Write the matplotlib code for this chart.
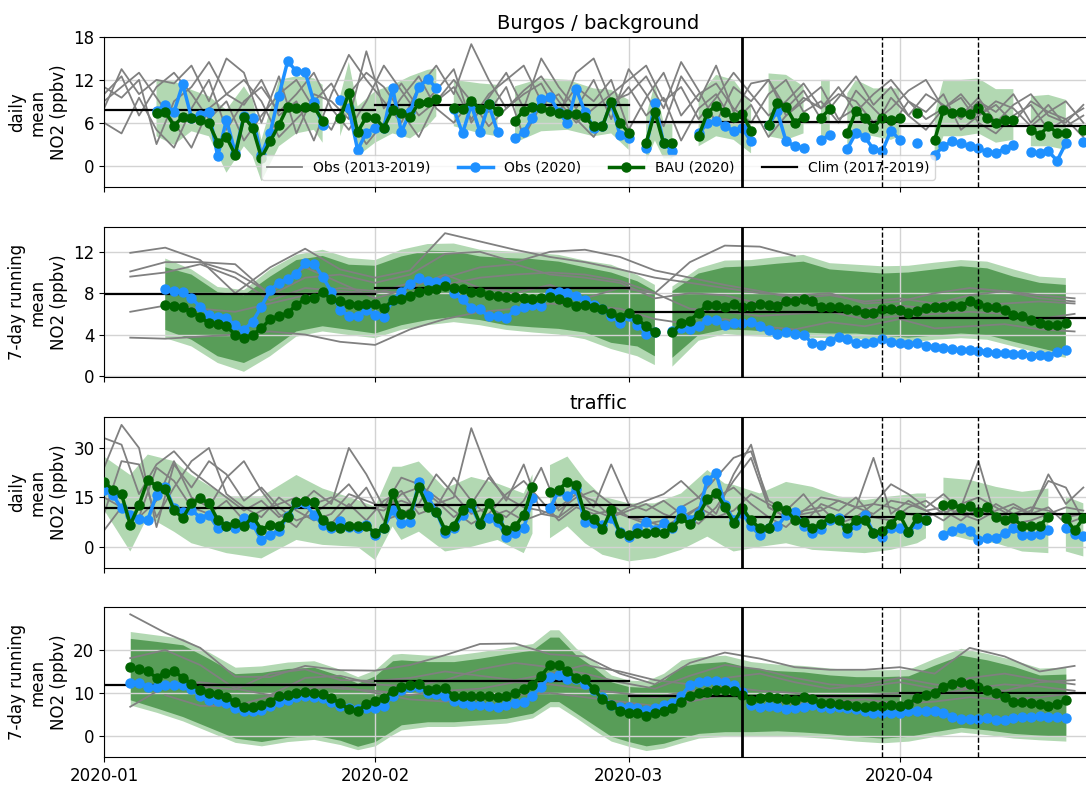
import matplotlib
matplotlib.use('Agg')
import matplotlib.pyplot as plt
import matplotlib.dates as mdates
import numpy as np

nan = np.nan
t0 = np.datetime64('2020-01-01')

# ---------------- background, daily ----------------
bg_day_obs_days = np.arange(0, 113, 2)
bg_day_hist = [
    [8, 13.5, 10, 12, 11.5, 14, 9, 15, 13, 6, 12.5, 4.5, 10, 9, 6.5, 16, 8, 11.5, 8, 10.5,
     13.5, 6, 9.5, 13, 8, 15, 11, 8, 12, 6.5, 13.5, 10, 5.5, 12.5, 9, 14, 7.5, 11.5, 12, 8,
     10.5, 6.5, 9.5, 12.5, 8.5, 11, 7, 10, 8.5, 6.5, 9, 7.5, 10, 6, 8.5, 5.5, 7],
    [11, 9.5, 12, 3, 9, 11, 14.5, 10, 8.5, 12, 7, 9, 3.5, 10, 15.5, 12, 9, 6, 11, 14,
     10, 17, 12, 8, 10, 11.5, 7, 13, 15, 9, 10, 12.5, 8, 14.5, 10.5, 6, 11, 9, 12, 7,
     9.5, 8, 11, 7.5, 10, 12, 9, 6.5, 8, 10, 7, 8.5, 6, 9, 7.5, 6.5, 8],
    [6, 4.5, 9.5, 5, 2.5, 8, 12, 5, 9, 11, 7.5, 10, 13, 8, 5, 9, 14, 10.5, 7, 9,
     11, 6.5, 10, 12, 14, 9, 7.5, 11, 9, 12, 5, 9.5, 13, 7, 10, 11.5, 8, 6, 10, 12,
     7.5, 9, 6, 10.5, 8, 5.5, 9, 7.5, 10, 5, 7, 9, 8, 5.5, 7.5, 9, 6],
    [9, 11, 13, 9.5, 6, 2.5, 8, 10, 12, 9, 4, 6.5, 9, 11.5, 7, 3, 6, 9.5, 12.5, 8,
     6, 9, 7.5, 11, 4, 8.5, 10, 6.5, 4, 8, 11, 7, 9.5, 3.5, 8, 10, 6, 8.5, 4, 7,
     9, 11, 6.5, 8, 5, 9.5, 7, 5, 8, 9.5, 6, 4.5, 7, 8.5, 5, 6.5, 4],
    [10, 12.5, 7, 11, 13, 10, 6.5, 9, 3.5, 7, 10, 12, 8, 5, 10, 13, 11, 7.5, 4, 9,
     12, 9, 5.5, 8, 10.5, 12.5, 9, 6, 8, 10, 12, 14, 9, 11, 6.5, 9.5, 13, 10, 7, 9,
     11.5, 8, 10, 9, 6, 8, 10.5, 12, 8, 7, 9.5, 6, 8.5, 10, 7, 6, 8.5],
]
bg_day_days = np.arange(6, 113)
bg_day_obs20 = ([7.7, 8.5, 7.5, 11.4, 6.7, 7.1, 7.5, 1.3, 6.4, 1.8, 6.9, 6.7, 1.5, 4.6, 9.8, 14.6, 13.2, 13.1, 8.9, 5.7]
                + [nan] + [9.2, 8.0, 2.2, 4.6, 5.3, 5.3, 10.9, 4.7, 7.5, 11.0, 12.1, 10.9]
                + [nan] + [7.9, 4.5, 8.5, 4.7, 8.6, 4.7]
                + [nan] + [3.8, 4.7, 6.7, 9.3, 9.6, 7.5, 5.9, 10.7, 7.5, 5.3, 5.5, 8.8, 4.3, 3.8]
                + [nan] + [2.5, 8.8, 3.1, 2.1] + [nan, nan] + [4.5, 5.9, 6.3, 5.6, 4.8, 5.2, 3.4]
                + [nan] + [5.7, 7.6, 3.4, 2.7, 2.5] + [nan] + [3.6, 4.3] + [nan]
                + [2.3, 4.6, 4.0, 2.3, 2.0, 4.9, 3.6] + [nan] + [3.2] + [nan]
                + [1.5, 2.7, 3.4, 3.1, 2.7, 2.4, 1.9, 1.8, 2.3, 2.9] + [nan]
                + [1.9, 1.7, 2.0, 0.7, 3.1] + [nan] + [3.3])
bg_day_bau = ([7.4, 7.5, 5.6, 6.8, 6.7, 6.4, 5.9, 3.2, 4.0, 1.5, 6.8, 5.3, 1.1, 3.4, 5.7, 8.2, 8.1, 8.2, 8.2, 6.3]
              + [nan] + [6.6, 10.2, 4.7, 6.8, 6.7, 5.3, 7.8, 7.4, 6.8, 8.8, 8.9, 9.3]
              + [nan] + [8.0, 7.9, 9.1, 7.9, 8.6, 7.7]
              + [nan] + [6.3, 7.7, 8.2, 8.1, 7.6, 7.3, 7.2, 7.2, 6.8, 5.5, 5.5, 8.9, 6.0, 4.6]
              + [nan] + [3.2, 7.5, 3.1, 3.1] + [nan, nan] + [4.1, 7.4, 8.4, 7.5, 6.8, 7.2, 4.9]
              + [nan] + [5.7, 8.8, 8.2, 6.0, 6.8] + [nan] + [6.7, 7.9] + [nan]
              + [4.5, 7.7, 6.7, 5.3, 6.7, 6.4, 6.7] + [nan] + [7.3] + [nan]
              + [3.6, 7.8, 7.4, 7.5, 7.2, 8.1, 6.7, 6.0, 6.4, 6.4] + [nan]
              + [5.0, 4.3, 5.5, 4.6, 4.6] + [nan] + [5.0])
bg_day_band_days = [6, 8, 10, 12, 14, 16, 17, 18, 20, 22, 24, 25, 26, 27, 28, 29, 31, 33, 35, 37,
                    38, 39, 40, 43, 45, 46, 47, 50, 53, 56, 58, 60, 61, 62, 63, 64, 65, 66, 68, 70,
                    72, 74, 75, 76, 78, 80, 81, 82, 83, 84, 85, 86, 88, 90, 91, 92, 93, 94, 95, 96,
                    98, 100, 102, 104, 105, 106, 108, 110, 111, 112]
bg_day_band_hi = [12.0, 11.8, 10.6, 9.7, 7.8, 11.1, 9.2, 3.6, 12.0, 12.5, 12.2, 11.3, nan, 9.7, 14.5, 8.3, 10.4, 11.3, 12.5, 13.4,
                  13.6, nan, 12.0, 11.5, 11.3, nan, 11.1, 12.2, 12.0, 10.8, 10.6, 9.2, nan, 7.0, 11.5, 6.0, 6.0, nan, 9.7, 12.7,
                  12.0, 8.7, nan, 12.9, 12.7, 11.1, nan, 12.0, 12.0, nan, 10.1, 12.0, 10.8, 10.8, 10.8, nan, 11.5, nan, 7.3, 12.0,
                  12.0, 12.2, 10.7, 10.7, nan, 9.7, 9.9, 9.2, nan, 9.7]
bg_day_band_lo = [4.1, 2.9, 4.8, 4.1, -1.0, 2.7, 1.3, -2.2, 2.7, 4.5, 5.0, 3.2, nan, 4.1, 7.8, 1.3, 3.2, 4.5, 3.8, 5.5,
                  6.9, nan, 5.5, 4.5, 4.1, nan, 3.2, 4.8, 5.0, 4.1, 4.5, 2.2, nan, 0.5, 3.5, 1.0, 1.0, nan, 2.7, 4.1,
                  3.6, 1.7, nan, 4.1, 3.6, 4.5, nan, 3.2, 4.1, nan, 2.7, 4.5, 4.1, 3.6, 4.1, nan, 4.5, nan, 0.8, 4.1,
                  4.1, 4.5, 3.2, 3.6, nan, 2.7, 2.7, 2.2, nan, 3.6]
bg_day_clim = [7.8, 8.5, 6.1, 5.6]

# ---------------- background, 7-day ----------------
bg_7d_obs_days = np.arange(3, 112, 4)
bg_7d_hist = [
    [11.9, 12.4, 11.2, 8.0, 10.5, 12.3, 10.3, 9.5, 10.2, 13.8, 13.0, 12.2, 11.5, 11.0, 10.3, 9.5, 9.0, 8.5, 8.0, 7.8,
     8.0, 7.0, 7.2, 8.0, 8.5, 8.2, 7.8, 7.5],
    [10.1, 11.0, 11.0, 10.8, 7.8, 9.5, 9.8, 9.0, 9.8, 11.8, 12.0, 11.0, 12.0, 12.2, 11.5, 10.2, 9.5, 8.8, 8.2, 7.5,
     7.8, 7.2, 7.5, 7.0, 7.8, 8.2, 7.5, 7.2],
    [9.6, 10.0, 10.8, 9.5, 7.3, 8.5, 8.2, 8.0, 9.0, 9.5, 10.5, 10.8, 9.8, 9.5, 9.0, 7.5, 8.0, 7.8, 7.0, 7.2,
     6.8, 6.5, 6.8, 6.5, 6.8, 7.0, 7.2, 7.0],
    [6.2, 6.8, 6.5, 6.2, 7.0, 7.8, 8.5, 8.2, 8.0, 8.8, 9.5, 9.8, 10.0, 9.8, 9.2, 8.0, 6.5, 6.2, 5.8, 6.0,
     6.2, 5.5, 5.8, 6.0, 6.2, 6.0, 5.5, 6.0],
    [3.7, 3.6, 3.8, 4.0, 4.3, 4.0, 3.3, 3.0, 4.5, 5.5, 6.2, 6.5, 7.0, 6.8, 6.5, 5.5, 5.0, 5.5, 4.8, 4.5,
     5.2, 4.8, 5.5, 4.6, 4.8, 5.0, 4.5, 4.3],
    [nan, nan, 11.0, 10.0, 8.0, 10.5, 9.0, 7.5, 8.5, 9.8, 8.5, 8.0, 8.8, 7.5, 8.5, 8.0, 11.0, 12.6, 12.5, 11.6,
     nan, nan, nan, nan, nan, nan, nan, nan],
]
bg_7d_days = np.arange(7, 111)
bg_7d_obs20 = ([8.4, 8.2, 8.15, 7.5, 6.7, 5.9, 5.7, 5.6, 4.9, 4.45, 5.25, 6.7, 8.3, 9.0, 9.4, 9.9, 10.9, 10.85, 9.6, 8.15,
                6.4, 5.8, 5.8, 6.4, 5.9, 5.7, 7.35]
               + [8.15, 8.9, 9.45, 9.15, 9.05, 9.2, 8.0, 7.4, 6.55, 6.45, 5.75, 5.75, 5.6, 6.4, 6.65, 6.9, 6.8, 8.0, 8.15, 8.05,
                  7.75, 7.35, 6.9, 6.45, 5.8, 5.1, 5.75, 4.95, 4.1, 4.2]
               + [nan] + [4.3, 4.6, 4.5, 4.85, 5.4, 5.4]
               + [4.95, 5.15, 5.1, 5.25, 4.85, 4.45, 4.1, 4.2, 4.1, 3.95, 3.2, 3.0, 3.4, 3.75, 3.55, 3.2, 3.2, 3.3, 3.55, 3.3,
                  3.15, 3.1, 3.2, 2.9, 2.8, 2.7, 2.6, 2.5, 2.5, 2.45, 2.35, 2.25, 2.2, 2.15, 2.15, 1.95, 2.05, 1.9, 2.35, 2.5])
bg_7d_bau = ([6.9, 6.8, 6.65, 6.2, 5.7, 5.1, 5.0, 4.8, 4.0, 3.65, 4.0, 4.6, 5.5, 5.8, 6.05, 6.9, 7.4, 7.5, 8.1, 7.4,
              7.2, 7.0, 6.9, 7.0, 7.0, 6.55, 7.3]
             + [7.4, 7.75, 8.15, 8.3, 8.4, 8.7, 8.5, 8.4, 8.15, 8.1, 7.85, 7.75, 7.6, 7.6, 7.5, 7.4, 7.5, 7.6, 7.4, 7.1,
                6.8, 6.9, 6.7, 6.45, 6.05, 5.7, 6.05, 5.5, 4.8, 4.2]
             + [nan] + [4.2, 5.1, 5.35, 6.1, 6.9, 6.9]
             + [6.7, 7.0, 6.7, 6.8, 6.95, 6.9, 6.8, 7.2, 7.2, 7.4, 7.2, 6.65, 6.7, 6.65, 6.45, 6.4, 6.05, 6.1, 6.45, 6.45,
                6.4, 6.05, 6.3, 6.55, 6.7, 6.7, 6.8, 6.8, 7.2, 6.95, 6.7, 6.65, 6.4, 5.9, 5.75, 5.4, 5.15, 4.95, 4.95, 5.15])
bg_7d_band_days = [7, 10, 13, 16, 19, 22, 25, 28, 31, 34, 37, 40, 43, 46, 49, 52, 55, 58, 61, 63,
                   64, 65, 68, 71, 74, 77, 80, 83, 86, 89, 92, 95, 98, 101, 104, 107, 110]
bg_7d_outer_hi = [11.35, 10.3, 8.6, 8.3, 10.3, 11.7, 12.2, 11.4, 11.2, 12.2, 12.75, 12.8, 12.2, 12.05, 11.9, 11.7, 11.15, 10.75, 9.75, 8.8,
                  nan, 8.65, 10.4, 11.15, 11.2, 11.5, 11.7, 10.9, 10.75, 10.6, 10.65, 10.95, 11.2, 11.05, 10.3, 9.6, 9.45]
bg_7d_inner_hi = [10.5, 9.8, 8.1, 7.8, 9.6, 11.2, 11.6, 10.75, 10.65, 11.55, 12.1, 12.05, 11.55, 11.4, 11.3, 11.05, 10.5, 10.0, 9.15, 8.2,
                  nan, 8.2, 9.9, 10.5, 10.6, 10.85, 11.05, 10.3, 10.1, 9.9, 10.0, 10.3, 10.6, 10.4, 9.6, 9.0, 8.8]
bg_7d_inner_lo = [4.45, 3.5, 1.9, 1.25, 2.5, 4.3, 4.8, 4.45, 4.1, 4.9, 5.4, 5.7, 5.4, 4.9, 4.7, 4.55, 4.2, 3.2, 2.85, 1.9,
                  nan, 1.75, 3.95, 4.5, 4.4, 4.2, 4.2, 4.1, 4.1, 3.9, 3.7, 3.9, 4.1, 3.95, 3.3, 2.7, 2.1]
bg_7d_outer_lo = [3.65, 2.85, 1.25, 0.4, 1.9, 3.8, 4.3, 3.95, 3.65, 4.45, 4.9, 5.2, 4.9, 4.45, 4.2, 4.0, 3.55, 2.6, 1.9, 1.05,
                  nan, 0.9, 3.4, 4.05, 3.85, 3.75, 3.7, 3.65, 3.6, 3.4, 3.2, 3.5, 3.65, 3.5, 2.85, 2.2, 1.75]
bg_7d_clim = [7.9, 8.5, 6.2, 5.6]

# ---------------- traffic, daily ----------------
tr_day_obs_days = np.arange(0, 113, 2)
tr_day_hist = [
    [33, 31, 16, 25, 29, 23, 19, 15, 11, 14, 9, 12, 17, 13, 30, 22, 12, 14, 12, 13,
     15, 36, 22, 14, 25, 10, 9, 13, 11, 9, 12, 14, 16, 20, 15, 10, 22, 31, 12, 9,
     11, 15, 14, 12, 27, 10, 14, 11, 8, 12, 26, 8, 12, 10, 22, 13, 18],
    [24, 37, 30, 6, 25, 18, 26, 22, 14, 18, 12, 8, 10, 14, 19, 12, 11, 16, 18, 14,
     9, 13, 21, 15, 12, 11, 9, 18, 12, 25, 13, 11, 14, 10, 7, 12, 20, 27, 12, 9,
     10, 11, 14, 12, 13, 19, 16, 12, 16, 11, 9, 13, 10, 12, 11, 9, 10],
    [10, 26, 25, 9, 18, 26, 30, 16, 12, 9, 15, 11, 8, 10, 16, 14, 12, 21, 19, 15,
     11, 7, 10, 16, 20, 14, 8, 12, 10, 11, 9, 7, 8, 12, 15, 21, 27, 29, 14, 11,
     16, 9, 8, 12, 10, 14, 13, 11, 12, 10, 8, 11, 13, 10, 12, 7, 9],
    [5, 12, 9, 14, 26, 15, 12, 21, 26, 17, 10, 6, 13, 15, 12, 18, 8, 10, 13, 22,
     16, 10, 12, 9, 14, 24, 11, 15, 17, 13, 9, 8, 6, 9, 12, 15, 18, 13, 9, 6,
     11, 12, 7, 9, 13, 12, 10, 9, 11, 8, 12, 9, 7, 8, 10, 12, 11],
    [15, 12, 9, 24, 20, 12, 10, 14, 8, 11, 13, 15, 10, 7, 13, 8, 14, 17, 10, 12,
     21, 14, 9, 11, 8, 10, 12, 16, 14, 9, 11, 13, 10, 8, 12, 9, 11, 16, 13, 10,
     7, 13, 11, 15, 9, 8, 12, 14, 10, 13, 15, 12, 9, 11, 20, 18, 8],
]
tr_day_days = np.arange(0, 113)
tr_day_obs20 = ([17.3, 15.7, 11.7, 9.7, 8.4, 8.2, 15.7, 18.1, 11.7, 10.7, 11.2, 8.9, 9.7, 5.7, 6.2, 5.7, 8.9, 6.9, 2.1, 3.6,
                 4.9, 9.5, 13.2, 13.2, 9.7, 6.7, 5.7, 7.7, 5.9, 5.7, 6.7, 3.6, 5.7, 11.2]
                + [7.1, 7.6, 19.8, 15.3, 10.7, 4.3, 5.7, 9.7, 12.2, 7.0, 8.7, 7.6, 3.1, 4.3, 5.7, 14.7]
                + [nan] + [11.7, 17.0, 15.3, 17.5, 7.6, 7.1, 6.6, 8.7, 4.6, 3.0, 5.7, 7.6, 5.2, 7.1, 5.7, 11.2, 8.2, 10.2,
                           20.3, 22.3, 12.7]
                + [8.2, 10.2, 6.2, 3.6, 5.7, 6.2, 9.7, 10.7, 6.4, 4.1, 5.4, 8.2, 8.7, 4.1, 6.7, 9.7, 4.3, 3.1, 5.7, 5.7,
                   4.6, 6.9, 8.0]
                + [nan] + [3.6, 4.9, 5.7, 4.9, 2.2, 2.8, 2.8, 4.1, 5.7, 3.6, 3.6, 3.9, 5.2]
                + [nan] + [5.7, 3.9, 3.3])
tr_day_bau = ([19.8, 17.3, 16.0, 6.7, 12.7, 20.3, 18.5, 17.5, 11.2, 8.7, 13.2, 14.7, 13.2, 8.2, 6.4, 7.2, 6.2, 9.2, 5.2, 6.7,
               6.4, 9.2, 13.7, 14.0, 13.5, 8.2, 6.2, 5.7, 6.4, 6.4, 6.2, 4.3, 5.7, 16.3]
              + [9.9, 9.9, 18.1, 12.2, 10.7, 5.2, 6.4, 11.2, 13.4, 7.0, 13.4, 8.7, 5.2, 6.2, 9.7, 18.1]
              + [nan] + [16.5, 17.3, 19.8, 18.8, 9.7, 8.4, 5.4, 11.2, 4.1, 3.6, 4.3, 4.3, 4.6, 4.3, 5.9, 8.7, 6.9, 9.7,
                         14.4, 16.3, 12.2]
              + [7.3, 11.7, 8.0, 5.7, 5.7, 12.4, 11.2, 8.2, 7.6, 5.7, 6.9, 8.9, 8.0, 5.7, 8.0, 8.2, 4.3, 4.9, 6.9, 9.7,
                 4.6, 8.9, 8.0]
              + [nan] + [12.7, 13.0, 11.7, 12.4, 10.7, 12.0, 9.2, 8.0, 8.7, 6.4, 6.4, 6.4, 9.2]
              + [nan] + [8.7, 5.0, 8.7])
tr_day_band_days = [0, 3, 5, 8, 10, 14, 18, 22, 25, 29, 31, 33, 34, 36, 39, 42, 45, 48, 49, 50,
                    51, 53, 55, 57, 60, 63, 66, 69, 71, 72, 75, 78, 81, 84, 87, 90, 93, 94, 95, 96,
                    99, 102, 105, 108, 109, 110, 112]
tr_day_band_hi = [27.4, 21.8, 28.0, 26.0, 21.8, 15.3, 15.3, 21.8, 17.7, 14.2, 12.2, 24.3, 24.3, 25.9, 17.7, 21.2, 19.2, 16.2, 22.0, nan,
                  24.8, 27.4, 20.3, 15.3, 13.2, 13.2, 16.2, 23.3, 19.2, 18.8, 16.2, 19.7, 18.2, 15.3, 14.2, 15.3, 16.2, 16.2, nan, 21.0,
                  20.3, 18.2, 16.7, 17.7, nan, 15.3, 13.2]
tr_day_band_lo = [11.2, -1.4, 9.2, 4.6, 1.1, -1.9, -3.5, 2.1, 0.6, 0.0, -4.0, 6.2, 2.1, 4.6, -1.4, 0.0, 2.1, -1.9, 4.0, nan,
                  2.6, 6.2, 1.1, -2.4, -4.4, -3.4, -0.9, 3.1, 0.0, -1.4, 0.0, 1.1, -0.9, -1.4, -1.9, -0.9, 1.1, 2.6, nan, 4.1,
                  2.1, 1.1, -1.4, -1.9, nan, -1.4, -2.9]
tr_day_clim = [11.9, 12.7, 9.2, 9.9]

# ---------------- traffic, 7-day ----------------
tr_7d_obs_days = np.arange(3, 112, 4)
tr_7d_hist = [
    [28.3, 24.0, 20.5, 13.8, 13.7, 16.3, 15.3, 15.2, 16.5, 18.8, 21.4, 21.5, 19.0, 18.5, 14.5, 12.0, 17.0, 19.4, 18.0, 16.0,
     15.4, 15.4, 16.0, 14.5, 20.5, 18.5, 15.0, 16.3],
    [18.1, 20.0, 16.5, 11.0, 9.5, 13.5, 14.0, 12.0, 11.5, 13.0, 15.5, 17.0, 16.0, 14.5, 12.5, 11.0, 14.0, 16.5, 15.5, 13.5,
     12.0, 11.5, 12.5, 11.0, 13.5, 14.5, 13.0, 12.0],
    [6.8, 11.5, 12.5, 11.5, 12.0, 12.0, 11.0, 10.5, 9.5, 10.5, 11.0, 12.5, 12.0, 11.0, 10.0, 9.0, 10.5, 11.5, 10.5, 10.0,
     9.0, 9.5, 10.0, 9.5, 11.0, 12.0, 11.5, 10.5],
    [nan, 9.5, 7.0, 7.0, 9.2, 11.0, 11.5, 10.0, 8.5, 8.0, 8.5, 9.5, 10.0, 9.0, 8.0, 7.0, 8.0, 9.5, 8.5, 7.5,
     8.0, 8.5, 7.5, 8.0, 9.0, 8.5, 9.0, 10.0],
    [nan, nan, 11.5, 10.8, 14.5, 15.5, 13.0, 12.8, 13.5, 15.0, 14.0, 13.0, 14.5, 16.5, 15.0, 13.0, 12.0, 13.5, 14.5, 12.5,
     11.0, 12.0, 13.5, 12.0, 11.0, 10.5, 12.5, 13.0],
]
tr_7d_days = np.arange(3, 111)
tr_7d_obs20 = ([12.4, 12.4, 11.5, 11.3, 11.9, 11.9, 11.9, 10.9, 9.2, 8.4, 8.2, 7.6, 6.4, 5.9, 5.9, 6.0, 7.0, 8.0, 8.4, 9.0,
                9.2, 9.0, 8.8, 8.0, 7.0, 6.4, 6.2, 6.4, 6.4, 7.0, 9.3]
               + [10.6, 11.5, 11.5, 10.1, 9.8, 9.3, 8.2, 7.6, 7.2, 7.2, 7.0, 6.8, 7.2, 7.6, 8.0, 9.3, 11.5, 13.8, 14.2, 13.2,
                  13.2, 12.2, 10.7, 9.0, 7.2, 6.8, 6.7, 6.4, 6.0, 6.4, 7.2, 7.6, 9.3, 11.9, 12.6, 12.9, 12.9]
               + [12.6, 11.9, 10.3, 7.2, 6.8, 7.0, 6.8, 6.2, 6.4, 6.8, 7.2, 6.8, 6.4, 6.8, 6.4, 6.2, 5.9, 5.3, 5.3, 5.4,
                  5.3, 5.7, 5.9, 5.9, 5.7, 5.4, 4.4, 3.9, 3.9, 3.9, 4.2, 3.8, 3.6, 4.2, 4.4, 4.5, 4.7, 4.5, 4.4, 4.2])
tr_7d_bau = ([16.0, 15.5, 15.0, 13.6, 14.7, 15.0, 13.6, 12.1, 10.7, 10.1, 9.8, 9.0, 7.8, 6.8, 6.7, 7.2, 8.0, 9.2, 9.5, 10.1,
              10.3, 10.1, 9.8, 8.8, 7.6, 6.2, 5.7, 7.5, 8.2, 8.8, 10.5]
             + [11.3, 11.9, 12.1, 10.7, 10.9, 11.1, 9.3, 9.3, 9.3, 9.2, 9.3, 9.0, 9.3, 9.9, 10.9, 11.9, 14.0, 16.5, 16.5, 15.0,
                13.6, 13.2, 10.9, 8.5, 7.2, 5.9, 5.4, 5.4, 4.7, 5.3, 5.9, 6.4, 8.0, 9.3, 10.1, 10.3, 10.6]
             + [10.7, 10.4, 9.5, 8.3, 8.8, 9.0, 8.8, 8.5, 8.3, 9.0, 8.5, 7.6, 7.6, 7.5, 7.2, 7.0, 6.8, 7.0, 7.0, 7.2,
                7.0, 7.5, 8.8, 9.6, 10.1, 11.5, 12.2, 12.6, 12.2, 11.5, 10.7, 10.0, 9.0, 8.0, 7.8, 7.6, 7.5, 7.0, 7.5, 8.3])
tr_7d_band_days = [3, 6, 9, 12, 15, 18, 21, 24, 27, 29, 31, 33, 34, 37, 40, 43, 46, 49, 51, 52,
                   54, 56, 58, 60, 62, 64, 66, 68, 71, 74, 77, 80, 83, 86, 89, 92, 95, 98, 101, 104, 107, 110]
tr_7d_outer_hi = [24.3, 23.5, 22.7, 19.5, 16.0, 16.3, 17.2, 17.5, 15.5, 13.8, 15.4, 19.0, 19.2, 18.8, 18.8, 19.6, 20.6, 21.5, 24.7, 24.7,
                  20.4, 17.5, 14.2, 13.0, 12.8, 14.6, 17.7, 18.4, 18.8, 17.3, 16.7, 16.4, 15.8, 15.4, 15.4, 15.5, 18.1, 20.4, 19.2, 17.7,
                  15.8, 16.0]
tr_7d_inner_hi = [22.7, 22.0, 21.2, 18.0, 14.5, 14.8, 15.7, 16.0, 14.0, 12.3, 14.0, 17.5, 17.7, 17.3, 17.3, 18.1, 19.1, 20.0, 23.0, 23.0,
                  18.8, 16.0, 12.6, 11.5, 11.3, 13.0, 16.2, 16.9, 17.3, 15.8, 15.2, 14.9, 14.2, 13.8, 13.8, 14.0, 16.5, 18.8, 17.7, 16.2,
                  14.2, 14.4]
tr_7d_inner_lo = [8.4, 6.5, 4.5, 2.0, -0.5, -1.3, -0.3, 0.2, -1.0, -2.4, -1.3, 1.3, 2.6, 3.3, 3.3, 3.7, 4.1, 5.3, 8.0, 8.0,
                  5.3, 2.6, -0.1, -1.3, -2.3, -1.7, -0.5, 0.6, 1.0, 1.0, 1.2, 0.9, 0.5, -0.1, -0.5, -0.1, 1.0, 2.0, 1.4, 0.6,
                  0.2, -0.1]
tr_7d_outer_lo = [7.2, 5.5, 3.5, 1.0, -1.5, -2.3, -1.3, -0.8, -2.0, -3.2, -2.3, 0.3, 1.4, 2.2, 2.2, 2.6, 3.0, 4.2, 6.8, 6.8,
                  4.2, 1.4, -1.2, -2.4, -3.4, -2.8, -1.6, -0.5, -0.1, -0.1, 0.1, -0.2, -0.6, -1.2, -1.6, -1.2, -0.1, 0.9, 0.3, -0.5,
                  -0.9, -1.2]
tr_7d_clim = [11.9, 12.9, 9.3, 9.9]

month_edges = [0, 31, 60, 91, 113]
lockdown_day = 73
dashed_days = [89, 100]


def dates(days):
    return t0 + np.asarray(days).astype('timedelta64[D]')


def draw(ax, hist_days, hist, days, obs20, bau, band_days, bands, clim, ylim, yticks, ylabel):
    bd = dates(band_days)
    for lo, hi, col, alpha in bands:
        ax.fill_between(bd, np.array(lo, float), np.array(hi, float), color=col, alpha=alpha, lw=0, zorder=1)
    for i, h in enumerate(hist):
        ax.plot(dates(hist_days), h, color='gray', lw=1.3, zorder=2,
                label='Obs (2013-2019)' if i == 0 else None)
    for k in range(4):
        ax.plot(dates([month_edges[k], month_edges[k + 1]]), [clim[k], clim[k]], color='black', lw=1.6, zorder=3,
                label='Clim (2017-2019)' if k == 0 else None)
    x = dates(days)
    ax.plot(x, obs20, '-o', color='dodgerblue', lw=2.5, ms=6.5, zorder=4, label='Obs (2020)')
    ax.plot(x, bau, '-o', color='darkgreen', lw=2.5, ms=6.5, zorder=5, label='BAU (2020)')
    ax.axvline(dates([lockdown_day])[0], color='black', lw=2, zorder=6)
    for d in dashed_days:
        ax.axvline(dates([d])[0], color='black', lw=1, ls='--', zorder=6)
    ax.set_xlim(t0, dates([113])[0])
    ax.set_ylim(*ylim)
    ax.set_yticks(yticks)
    ax.set_ylabel(ylabel, fontsize=12)
    ax.tick_params(labelsize=12)
    ax.xaxis.set_major_locator(mdates.MonthLocator())
    ax.xaxis.set_major_formatter(mdates.DateFormatter('%Y-%m'))
    ax.grid(True, color='lightgray', lw=1)


fig = plt.figure(figsize=(10.86, 7.87), dpi=100)
ax1 = fig.add_axes([0.0958, 0.7624, 0.9098, 0.1906])
ax2 = fig.add_axes([0.0958, 0.5210, 0.9098, 0.1906])
ax3 = fig.add_axes([0.0958, 0.2783, 0.9098, 0.1919])
ax4 = fig.add_axes([0.0958, 0.0381, 0.9098, 0.1906])

light = 'green'
draw(ax1, bg_day_obs_days, bg_day_hist, bg_day_days, bg_day_obs20, bg_day_bau,
     bg_day_band_days, [(bg_day_band_lo, bg_day_band_hi, light, 0.3)],
     bg_day_clim, (-3, 18), [0, 6, 12, 18], 'daily\nmean\nNO2 (ppbv)')
draw(ax2, bg_7d_obs_days, bg_7d_hist, bg_7d_days, bg_7d_obs20, bg_7d_bau,
     bg_7d_band_days, [(bg_7d_outer_lo, bg_7d_outer_hi, light, 0.3),
                       (bg_7d_inner_lo, bg_7d_inner_hi, 'darkgreen', 0.5)],
     bg_7d_clim, (-0.1, 14.4), [0, 4, 8, 12], '7-day running\nmean\nNO2 (ppbv)')
draw(ax3, tr_day_obs_days, tr_day_hist, tr_day_days, tr_day_obs20, tr_day_bau,
     tr_day_band_days, [(tr_day_band_lo, tr_day_band_hi, light, 0.3)],
     tr_day_clim, (-6.4, 39.4), [0, 15, 30], 'daily\nmean\nNO2 (ppbv)')
draw(ax4, tr_7d_obs_days, tr_7d_hist, tr_7d_days, tr_7d_obs20, tr_7d_bau,
     tr_7d_band_days, [(tr_7d_outer_lo, tr_7d_outer_hi, light, 0.3),
                       (tr_7d_inner_lo, tr_7d_inner_hi, 'darkgreen', 0.5)],
     tr_7d_clim, (-4.9, 30), [0, 10, 20], '7-day running\nmean\nNO2 (ppbv)')

for ax in (ax1, ax2, ax3):
    ax.set_xticklabels([])

ax1.set_title('Burgos / background', fontsize=14)
ax3.set_title('traffic', fontsize=14)

h, l = ax1.get_legend_handles_labels()
order = [l.index(s) for s in ['Obs (2013-2019)', 'Obs (2020)', 'BAU (2020)', 'Clim (2017-2019)']]
ax1.legend([h[i] for i in order], [l[i] for i in order], loc='lower center', ncol=4, fontsize=10,
           markerscale=1.0, handlelength=2.5)

fig.savefig('out.png', dpi=100)
